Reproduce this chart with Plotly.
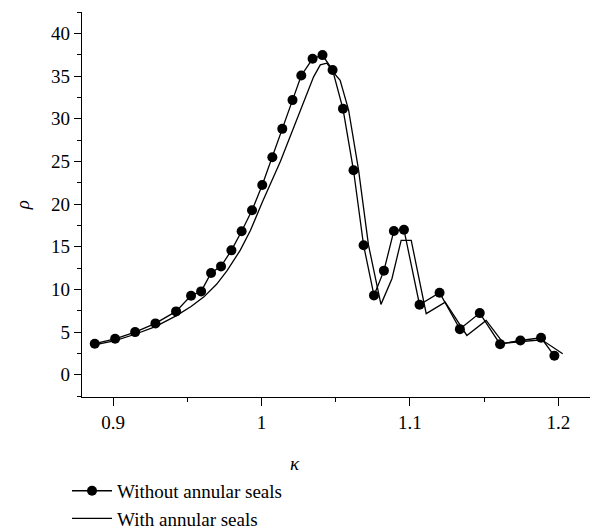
import plotly.graph_objects as go

# Without annular seals (dots)
kappa_without = [0.8876, 0.9013, 0.9148, 0.9285, 0.9424, 0.9525, 0.9593, 0.966, 0.9727, 0.9797,
                 0.9866, 0.9936, 1.0005, 1.0073, 1.014, 1.0209, 1.0268, 1.0344, 1.0411, 1.0479,
                 1.0549, 1.062, 1.0688, 1.0758, 1.0825, 1.0892, 1.096, 1.1065, 1.12, 1.1337,
                 1.1471, 1.1608, 1.1745, 1.1884, 1.1974]
rho_without = [3.64, 4.22, 5.0, 6.02, 7.43, 9.27, 9.77, 11.92, 12.7, 14.58,
               16.81, 19.27, 22.24, 25.49, 28.81, 32.18, 35.07, 37.02, 37.45, 35.7,
               31.16, 23.96, 15.17, 9.3, 12.2, 16.85, 17.0, 8.21, 9.62, 5.35,
               7.23, 3.59, 4.02, 4.34, 2.23]

# With annular seals (line)
kappa_with = [0.8876, 0.9013, 0.9148, 0.9285, 0.9424, 0.9525, 0.961, 0.9697, 0.9768, 0.9857,
              0.9925, 1.0005, 1.0127, 1.026, 1.0351, 1.0396, 1.044, 1.0486, 1.053, 1.0587,
              1.0654, 1.0721, 1.0805, 1.0879, 1.0941, 1.1009, 1.111, 1.1238, 1.1384, 1.1514,
              1.163, 1.1755, 1.1889, 1.203]
rho_with = [3.5, 4.0, 4.75, 5.65, 6.9, 8.0, 9.1, 10.6, 12.2, 14.6,
            16.9, 20.2, 25.0, 31.0, 34.9, 36.3, 36.5, 35.4, 34.5, 31.0,
            24.0, 15.2, 8.25, 11.26, 15.75, 15.75, 7.16, 8.5, 4.61, 6.37,
            3.71, 3.9, 4.1, 2.46]

x_ticks = [0.9, 1.0, 1.1, 1.2]
x_ticklabels = ["0.9", "1", "1.1", "1.2"]
y_ticks = [0, 5, 10, 15, 20, 25, 30, 35, 40]

FONT = "Liberation Serif"

fig = go.Figure()
fig.add_trace(go.Scatter(
    x=kappa_without, y=rho_without, mode="lines+markers",
    name="Without annular seals",
    line=dict(color="black", width=1.3),
    marker=dict(color="black", size=10),
))
fig.add_trace(go.Scatter(
    x=kappa_with, y=rho_with, mode="lines",
    name="With annular seals",
    line=dict(color="black", width=1.3),
))

fig.update_layout(
    width=594, height=529,
    margin=dict(l=82, r=4, t=12, b=132, autoexpand=False),
    paper_bgcolor="white", plot_bgcolor="white",
    font=dict(family=FONT, size=19, color="black"),
    showlegend=True,
    legend=dict(x=-0.0295, y=-0.1945, xanchor="left", yanchor="top",
                bgcolor="rgba(0,0,0,0)", font=dict(size=19, family=FONT),
                tracegroupgap=0, itemwidth=40),
    xaxis=dict(
        range=[0.879, 1.2214], showline=True, linecolor="black", linewidth=1.2,
        ticks="outside", ticklen=8, tickwidth=1.2, tickcolor="black",
        tickvals=x_ticks, ticktext=x_ticklabels, showgrid=False, zeroline=False,
        minor=dict(dtick=0.05, tick0=0.85, ticks="outside", ticklen=4, tickwidth=1.2, tickcolor="black"),
        tickfont=dict(size=19, family=FONT),
    ),
    yaxis=dict(
        range=[-2.6, 42.5], showline=True, linecolor="black", linewidth=1.2,
        ticks="outside", ticklen=7, tickwidth=1.2, tickcolor="black",
        tickvals=y_ticks, showgrid=False, zeroline=False,
        minor=dict(dtick=2.5, tick0=0, ticks="outside", ticklen=4, tickwidth=1.2, tickcolor="black"),
        tickfont=dict(size=19, family=FONT),
    ),
    annotations=[
        dict(text="<i>κ</i>", xref="paper", yref="paper", x=(295 - 82) / 508, y=(396.7 - 463) / 384.7,
             xanchor="center", yanchor="middle", showarrow=False, font=dict(size=19, family=FONT)),
        dict(text="<i>ρ</i>", xref="paper", yref="paper", x=(22 - 82) / 508, y=(396.7 - 205) / 384.7,
             xanchor="center", yanchor="middle", showarrow=False, textangle=-90,
             font=dict(size=19, family=FONT)),
    ],
)

fig.write_html("out.html")
